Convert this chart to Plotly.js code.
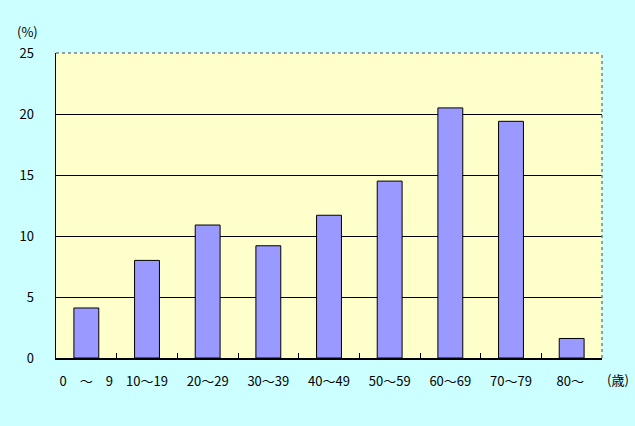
<!DOCTYPE html>
<html>
<head>
<meta charset="utf-8">
<script src="https://cdn.plot.ly/plotly-3.0.1.min.js"></script>
<style>
html,body{margin:0;padding:0;background:#CCFFFF;}
#chart{width:635px;height:426px;}
</style>
</head>
<body>
<div id="chart"></div>
<script>
const categories = ["0　～　9", "10～19", "20～29", "30～39", "40～49", "50～59", "60～69", "70～79", "80～ "];
const values = [4.1, 8.0, 10.9, 9.2, 11.7, 14.5, 20.5, 19.4, 1.6];
const yTicks = [0, 5, 10, 15, 20, 25];
const yUnit = "(%)";
const xUnit = "(歳)";

const font = {family: "'Noto Sans CJK JP', 'DejaVu Sans', sans-serif", size: 13, color: "#000000"};

const trace = {
  type: "bar",
  x: categories,
  y: values,
  marker: {color: "#9999FF", line: {color: "#000000", width: 1}},
  hoverinfo: "none"
};

const layout = {
  width: 635, height: 426,
  paper_bgcolor: "#CCFFFF",
  plot_bgcolor: "#FFFFCC",
  margin: {l: 56, r: 33, t: 53, b: 68},
  font: font,
  showlegend: false,
  bargap: 0.59,
  xaxis: {
    type: "category",
    showline: true, linecolor: "#000000", linewidth: 1.5,
    ticks: "inside", tickson: "boundaries", ticklen: 5, tickcolor: "#000000", tickwidth: 1,
    showgrid: false,
    tickangle: 0,
    ticklabelstandoff: 11,
    tickfont: font,
    fixedrange: true
  },
  yaxis: {
    range: [0, 25],
    tickvals: yTicks,
    ticktext: yTicks.map(String),
    showline: true, linecolor: "#000000", linewidth: 1.5,
    ticks: "", showgrid: true, gridcolor: "#000000", gridwidth: 1,
    zeroline: false,
    ticklabelstandoff: 18,
    tickfont: font,
    fixedrange: true
  },
  shapes: [
    {type: "line", xref: "paper", yref: "paper", x0: 0, x1: 1, y0: 1, y1: 1, line: {color: "#808080", width: 1.5, dash: "dot"}},
    {type: "line", xref: "paper", yref: "paper", x0: 1, x1: 1, y0: 0, y1: 1, line: {color: "#808080", width: 1.5, dash: "dot"}}
  ],
  annotations: [
    {text: yUnit, xref: "paper", yref: "paper", x: -0.053, y: 1.07, xanchor: "center", yanchor: "middle", showarrow: false, font: font},
    {text: xUnit, xref: "paper", yref: "paper", x: 1.029, y: -0.072, xanchor: "center", yanchor: "middle", showarrow: false, font: font}
  ]
};

Plotly.newPlot("chart", [trace], layout, {displayModeBar: false, staticPlot: true});
</script>
</body>
</html>
